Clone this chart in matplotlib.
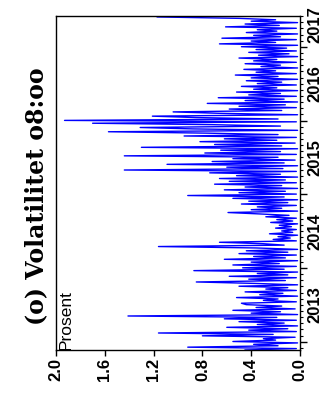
import numpy as np
import matplotlib
matplotlib.use('Agg')
import matplotlib.pyplot as plt
import matplotlib.transforms as mtransforms

# ukentlige observasjoner av volatilitet kl 08:00, prosent
start = 2012.887
vol = [0.45, 0.03, 0.92, 0.18, 0.38, 0.02, 0.55, 0.20, 0.30, 0.04,
       0.80, 0.22, 1.16, 0.03, 0.42, 0.10, 0.60, 0.02, 0.35, 0.13,
       0.50, 0.03, 0.62, 0.19, 1.41, 0.02, 0.40, 0.16, 0.55, 0.04,
       0.36, 0.15, 0.44, 0.48, 0.03, 0.30, 0.18, 0.52, 0.02, 0.33,
       0.14, 0.45, 0.03, 0.28, 0.10, 0.50, 0.02, 0.38, 0.85, 0.12,
       0.42, 0.03, 0.58, 0.10, 0.35, 0.02, 0.87, 0.13, 0.47, 0.03,
       0.55, 0.17, 0.40, 0.02, 0.62, 0.12, 0.38, 0.03, 0.50, 0.10,
       0.44, 0.02, 0.36, 1.16, 0.13, 0.30, 0.66, 0.03, 0.22, 0.08,
       0.18, 0.02, 0.25, 0.06, 0.15, 0.03, 0.20, 0.07, 0.17, 0.02,
       0.24, 0.06, 0.19, 0.03, 0.28, 0.09, 0.33, 0.59, 0.02, 0.40,
       0.15, 0.35, 0.03, 0.48, 0.10, 0.42, 0.02, 0.55, 0.13, 0.92,
       0.03, 0.50, 0.12, 0.62, 0.02, 0.45, 0.15, 0.70, 0.03, 0.58,
       0.12, 0.66, 0.02, 0.52, 0.16, 0.74, 0.03, 1.44, 0.14, 0.60,
       0.02, 1.09, 0.13, 0.72, 0.04, 0.55, 0.18, 1.44, 0.03, 0.78,
       0.16, 0.65, 0.02, 1.30, 0.15, 0.70, 0.04, 0.82, 0.19, 0.62,
       0.03, 0.95, 0.18, 0.76, 1.57, 0.02, 0.88, 1.31, 0.16, 0.72,
       1.70, 0.03, 1.93, 0.18, 0.85, 1.21, 0.02, 0.66, 1.04, 0.15,
       0.58, 0.03, 0.50, 0.12, 0.76, 0.02, 0.45, 0.13, 0.67, 0.03,
       0.42, 0.16, 0.52, 0.02, 0.38, 0.19, 0.48, 0.03, 0.35, 0.15,
       0.44, 0.02, 0.40, 0.18, 0.53, 0.03, 0.36, 0.20, 0.46, 0.02,
       0.32, 0.16, 0.45, 0.03, 0.38, 0.19, 0.50, 0.02, 0.34, 0.09,
       0.42, 0.03, 0.36, 0.11, 0.48, 0.02, 0.66, 0.20, 0.40, 0.03,
       0.64, 0.16, 0.38, 0.02, 0.44, 0.19, 0.35, 0.03, 0.61, 0.17,
       0.45, 0.02, 0.40, 0.20, 0.50, 1.17]
years = [2013, 2014, 2015, 2016, 2017]
year_label_pos = [2013.5, 2014.5, 2015.5, 2016.5, 2017.3]
value_ticks = [2.0, 1.6, 1.2, 0.8, 0.4, 0.0]

t = start + np.arange(len(vol)) / 52.0
t_end = 2017.419

sans = ['Liberation Sans', 'DejaVu Sans']

fig = plt.figure(figsize=(3.25, 3.94), dpi=100)
# figuren er dreid 90 grader: tid går oppover, verdi mot venstre
ax = fig.add_axes([56 / 325, 44 / 394, 244 / 325, 334 / 394])
ax.plot(vol, t, color='#0000ff', lw=1.0)

ax.set_xlim(2.0, 0.0)
ax.set_ylim(start, t_end)

ax.set_xticks(value_ticks)
ax.set_xticklabels(['%.1f' % v for v in value_ticks], rotation=90,
                   fontsize=12, fontweight='bold', family=sans)
ax.tick_params(axis='x', direction='out', length=4, width=1, pad=2)

ax.yaxis.tick_right()
ax.set_yticks(years)
ax.set_yticks([y + m / 12 for y in range(2012, 2018) for m in range(12)
               if start < y + m / 12 < t_end], minor=True)
ax.set_yticklabels([])
ax.tick_params(axis='y', which='major', direction='out', length=5, width=1)
ax.tick_params(axis='y', which='minor', direction='out', length=2.5, width=0.8)

trans = mtransforms.blended_transform_factory(ax.transAxes, ax.transData)
for yr, pos in zip(years, year_label_pos):
    ax.text(1.03, pos, str(yr), transform=trans, rotation=90, ha='left',
            va='center', fontsize=12, fontweight='bold', family=sans)

for s in ax.spines.values():
    s.set_linewidth(1.0)
    s.set_color('black')

ax.text(0.01, 0.0, 'Prosent', transform=ax.transAxes, rotation=90,
        ha='left', va='bottom', fontsize=12.5, family=sans)

fig.text(36 / 325, 1 - 196 / 394, '(o) Volatilitet o8:oo', rotation=90,
         ha='center', va='center', fontsize=17, fontweight='bold',
         family=['DejaVu Serif'])

fig.savefig('out.png', dpi=100)
